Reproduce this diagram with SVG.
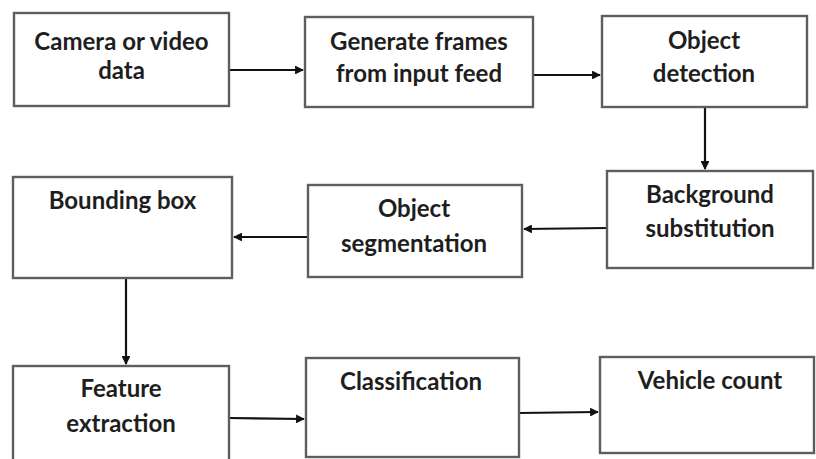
<svg xmlns="http://www.w3.org/2000/svg" width="816" height="459" viewBox="0 0 816 459">
<style>
.box{fill:#fff;stroke:#5e5e5e;stroke-width:2.4}
.t{font-family:Lato,"Open Sans",sans-serif;font-weight:bold;font-size:24px;fill:#1e1e1e;text-anchor:middle}
.c{stroke:#111;stroke-width:2.2;fill:none;marker-end:url(#ah)}
</style>
<defs>
<marker id="ah" viewBox="0 0 10 10" refX="9" refY="5" markerWidth="4" markerHeight="4" orient="auto" markerUnits="strokeWidth">
<path d="M0,0 L10,5 L0,10 z" fill="#111"/>
</marker>
</defs>
<rect width="816" height="459" fill="#fff"/>
<g id="connectors">
<line class="c" x1="229" y1="70" x2="303" y2="70"/>
<line class="c" x1="533" y1="75" x2="600" y2="75"/>
<line class="c" x1="705" y1="107" x2="705" y2="169"/>
<line class="c" x1="607" y1="228" x2="524" y2="229"/>
<line class="c" x1="308" y1="237" x2="234" y2="237"/>
<line class="c" x1="126" y1="278" x2="126" y2="364"/>
<line class="c" x1="229" y1="418" x2="304" y2="419"/>
<line class="c" x1="519" y1="413" x2="598" y2="412"/>
</g>
<g id="n1"><rect class="box" x="14" y="13" width="215" height="93"/><text class="t" x="121.5" y="50">Camera or video</text><text class="t" x="121.5" y="79">data</text></g>
<g id="n2"><rect class="box" x="305" y="17" width="228" height="90"/><text class="t" x="419" y="50">Generate frames</text><text class="t" x="419" y="82">from input feed</text></g>
<g id="n3"><rect class="box" x="602" y="16" width="205" height="91"/><text class="t" x="704" y="49">Object</text><text class="t" x="704" y="82">detection</text></g>
<g id="n4"><rect class="box" x="607" y="171" width="206" height="97"/><text class="t" x="710" y="203">Background</text><text class="t" x="710" y="237">substitution</text></g>
<g id="n5"><rect class="box" x="308" y="185" width="214" height="92"/><text class="t" x="414" y="217">Object</text><text class="t" x="414" y="252">segmentation</text></g>
<g id="n6"><rect class="box" x="13" y="177" width="219" height="101"/><text class="t" x="122.5" y="209">Bounding box</text></g>
<g id="n7"><rect class="box" x="13" y="366" width="216" height="100"/><text class="t" x="121" y="397">Feature</text><text class="t" x="121" y="432">extraction</text></g>
<g id="n8"><rect class="box" x="306" y="358" width="213" height="99"/><text class="t" x="411" y="390">Classification</text></g>
<g id="n9"><rect class="box" x="600" y="357" width="214" height="96"/><text class="t" x="710" y="389">Vehicle count</text></g>
</svg>
